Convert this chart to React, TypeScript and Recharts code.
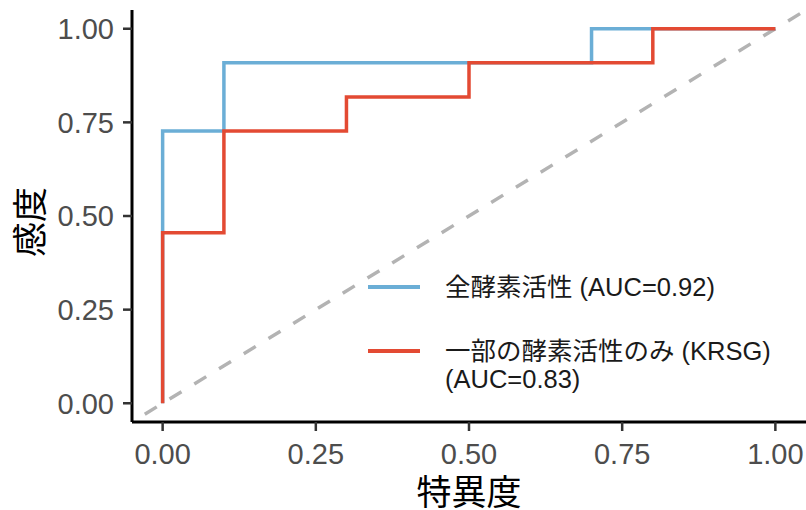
import { LineChart, Line, XAxis, YAxis, ReferenceLine, Legend } from "recharts";

// ROC curve points (false positive rate / true positive rate)
const allFpr = [0, 0, 0.1, 0.1, 0.7, 0.7, 1];
const allTpr = [0, 0.727, 0.727, 0.909, 0.909, 1, 1];
const krsgFpr = [0, 0, 0.1, 0.1, 0.3, 0.3, 0.5, 0.5, 0.8, 0.8, 1];
const krsgTpr = [0, 0.455, 0.455, 0.727, 0.727, 0.818, 0.818, 0.909, 0.909, 1, 1];

const TICKS = [0, 0.25, 0.5, 0.75, 1];
const DOMAIN: [number, number] = [-0.05, 1.05];

const SERIES = [
  { key: "all", name: "全酵素活性 (AUC=0.92)", color: "#6BAED6", fpr: allFpr, tpr: allTpr },
  { key: "krsg", name: "一部の酵素活性のみ (KRSG)\n(AUC=0.83)", color: "#E34A33", fpr: krsgFpr, tpr: krsgTpr },
];

const FONT = "'Liberation Sans', Arial, 'Noto Sans CJK JP', sans-serif";

const toPoints = (xs: number[], ys: number[]) => xs.map((x, i) => ({ x, y: ys[i] }));

// legend keeps the series order (recharts would otherwise sort it)
function LegendBox() {
  return (
    <div style={{ fontFamily: FONT }}>
      {SERIES.map((s, i) => (
        <div
          key={s.key}
          style={{ display: "flex", alignItems: "flex-start", marginBottom: i === 0 ? 36 : 0 }}
        >
          <div style={{ width: 52, height: 28, display: "flex", alignItems: "center", flexShrink: 0 }}>
            <div style={{ width: 52, height: 3.5, background: s.color }} />
          </div>
          <div
            style={{
              marginLeft: 25,
              fontSize: 25.5,
              lineHeight: "28px",
              color: "#1a1a1a",
              whiteSpace: "pre-line",
            }}
          >
            {s.name}
          </div>
        </div>
      ))}
    </div>
  );
}

export default function App() {
  return (
    <div style={{ position: "absolute", left: 0, top: 0, fontFamily: FONT }}>
      <LineChart width={806} height={510} margin={{ top: 10, right: 0, left: 0, bottom: 0 }}>
        <XAxis
          dataKey="x"
          type="number"
          domain={DOMAIN}
          ticks={TICKS}
          allowDataOverflow
          height={88}
          tickFormatter={(v: number) => v.toFixed(2)}
          tick={{ fontSize: 29, fill: "#4d4d4d" }}
          tickSize={9}
          tickMargin={12}
          tickLine={{ stroke: "#333", strokeWidth: 2.5 }}
          axisLine={{ stroke: "#000", strokeWidth: 3 }}
          label={{
            content: ({ viewBox }: any) => (
              <text
                x={viewBox.x + viewBox.width / 2}
                y={viewBox.y + 70}
                textAnchor="middle"
                dominantBaseline="central"
                fontSize={35}
                fill="#000"
              >
                特異度
              </text>
            ),
          }}
        />
        <YAxis
          dataKey="y"
          type="number"
          domain={DOMAIN}
          ticks={TICKS}
          allowDataOverflow
          width={132}
          tickFormatter={(v: number) => v.toFixed(2)}
          tick={{ fontSize: 29, fill: "#4d4d4d" }}
          tickSize={9}
          tickMargin={9}
          tickLine={{ stroke: "#333", strokeWidth: 2.5 }}
          axisLine={{ stroke: "#000", strokeWidth: 3 }}
          label={{
            content: ({ viewBox }: any) => {
              const cx = viewBox.x + 30;
              const cy = viewBox.y + viewBox.height / 2 + 6;
              return (
                <text
                  x={cx}
                  y={cy}
                  textAnchor="middle"
                  dominantBaseline="central"
                  fontSize={35}
                  fill="#000"
                  transform={`rotate(-90, ${cx}, ${cy})`}
                >
                  感度
                </text>
              );
            },
          }}
        />
        <ReferenceLine
          segment={[
            { x: DOMAIN[0], y: DOMAIN[0] },
            { x: DOMAIN[1], y: DOMAIN[1] },
          ]}
          stroke="#B3B3B3"
          strokeWidth={3.5}
          strokeDasharray="14 15"
          strokeDashoffset={-15}
          ifOverflow="visible"
        />
        {SERIES.map((s) => (
          <Line
            key={s.key}
            data={toPoints(s.fpr, s.tpr)}
            dataKey="y"
            name={s.name}
            type="linear"
            stroke={s.color}
            strokeWidth={3.5}
            dot={false}
            activeDot={false}
            isAnimationActive={false}
          />
        ))}
        <Legend
          layout="vertical"
          align="center"
          verticalAlign="middle"
          content={<LegendBox />}
          wrapperStyle={{ left: 368, top: 273, width: 430 }}
        />
      </LineChart>
    </div>
  );
}
